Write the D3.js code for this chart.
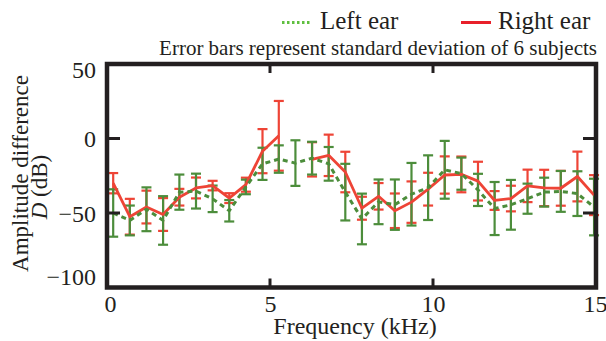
<!DOCTYPE html>
<html>
<head>
<meta charset="utf-8">
<script src="https://cdn.jsdelivr.net/npm/d3@7"></script>
<style>
  body { margin: 0; background: #fff; }
  svg text { font-family: "Liberation Serif", Tinos, "Times New Roman", Times, "DejaVu Serif", serif; fill: #231f20; }
</style>
</head>
<body>
<div id="chart"></div>
<script>
// frequency of each measured point (kHz)
var freqs = [0.19, 0.70, 1.21, 1.72, 2.22, 2.73, 3.24, 3.75, 4.26, 4.77,
  5.27, 5.78, 6.29, 6.80, 7.31, 7.82, 8.33, 8.83, 9.34, 9.85,
  10.36, 10.87, 11.38, 11.89, 12.39, 12.90, 13.41, 13.92, 14.43, 14.94];

// right ear mean and sd (dB), one point missing
var rightMean = [-30, -52.5, -46, -51, -39.4, -33.2, -31.6, -40, -31, -8.5,
  1.8, null, -14, -11.3, -22.5, -46.8, -38.8, -48.5, -42.7, -34,
  -24.5, -24.1, -28.6, -41.6, -40.3, -31.8, -33.2, -33.4, -25.5, -38];
var rightSd = [6.8, 12, 11, 11, 5.6, 7, 3.2, 3.3, 4.7, 14.8,
  23.4, null, 11.5, 13.9, 13.6, 7.7, 8.9, 11.6, 13.9, 11,
  12.5, 12, 13, 6.3, 8.6, 10.9, 12.2, 11.7, 16.7, 13.4];

// left ear mean and sd (dB)
var leftMean = [-50, -55, -47.5, -55, -36, -35.3, -40.5, -48.5, -32.5, -17,
  -13.8, -16.5, -13.2, -17, -36, -54, -42.5, -44.4, -37.4, -33,
  -21, -23.6, -34.5, -47, -44.5, -40.4, -36, -35.5, -37, -46];
var leftSd = [15.9, 10, 14.7, 16.3, 11.8, 11.7, 8.9, 7.2, 4.9, 10.8,
  9.2, 15.3, 11, 11.3, 19, 17, 15, 16.9, 21, 21.7,
  19.4, 10.8, 10.8, 17.8, 16.7, 10.1, 9.7, 13.7, 15, 19];

var xTicks = [0, 5, 10, 15];
var yTicks = [50, 0, -50, -100];

var svgWidth = 606;
var svgHeight = 341;

var red = '#ee4436';
var green = '#4c8d3b';
var ink = '#231f20';
var serif = '"Liberation Serif", Tinos, "Times New Roman", Times, "DejaVu Serif", serif';

// plot frame
var frame = { left: 107, right: 596, top: 64, bottom: 287.5 };

var svg = d3.select('#chart').append('svg')
  .attr('width', svgWidth)
  .attr('height', svgHeight)
  .attr('font-family', serif);

svg.append('rect')
  .attr('width', svgWidth)
  .attr('height', svgHeight)
  .attr('fill', '#fff');

var xScale = d3.scaleLinear()
  .domain([0, 15])
  .range([frame.left, frame.right]);

var yScale = d3.scaleLinear()
  .domain([-100, 50])
  .range([frame.bottom, frame.top]);

// build point rows from the arrays
var rightData = freqs.map((f, i) => ({ f: f, m: rightMean[i], sd: rightSd[i] }));
var leftData = freqs.map((f, i) => ({ f: f, m: leftMean[i], sd: leftSd[i] }));

function errorBars(data, color, cls) {
  var g = svg.append('g').attr('class', cls)
    .attr('stroke', color)
    .attr('stroke-width', 2.2)
    .attr('fill', 'none');
  var pts = data.filter(d => d.m != null);
  g.selectAll('line.stem')
    .data(pts)
    .enter()
    .append('line')
    .attr('class', 'stem')
    .attr('x1', d => xScale(d.f))
    .attr('x2', d => xScale(d.f))
    .attr('y1', d => yScale(d.m - d.sd))
    .attr('y2', d => yScale(d.m + d.sd));
  g.selectAll('line.capTop')
    .data(pts)
    .enter()
    .append('line')
    .attr('class', 'capTop')
    .attr('x1', d => xScale(d.f) - 5)
    .attr('x2', d => xScale(d.f) + 5)
    .attr('y1', d => yScale(d.m + d.sd))
    .attr('y2', d => yScale(d.m + d.sd));
  g.selectAll('line.capBot')
    .data(pts)
    .enter()
    .append('line')
    .attr('class', 'capBot')
    .attr('x1', d => xScale(d.f) - 5)
    .attr('x2', d => xScale(d.f) + 5)
    .attr('y1', d => yScale(d.m - d.sd))
    .attr('y2', d => yScale(d.m - d.sd));
}

errorBars(rightData, red, 'rightBars');
errorBars(leftData, green, 'leftBars');

var line = d3.line()
  .defined(d => d.m != null)
  .x(d => xScale(d.f))
  .y(d => yScale(d.m));

svg.append('path')
  .datum(rightData)
  .attr('fill', 'none')
  .attr('stroke', red)
  .attr('stroke-width', 2.8)
  .attr('stroke-linejoin', 'round')
  .attr('d', line);

svg.append('path')
  .datum(leftData)
  .attr('fill', 'none')
  .attr('stroke', green)
  .attr('stroke-width', 3)
  .attr('stroke-dasharray', '5,4')
  .attr('d', line);

// frame box
svg.append('rect')
  .attr('x', frame.left)
  .attr('y', frame.top)
  .attr('width', frame.right - frame.left)
  .attr('height', frame.bottom - frame.top)
  .attr('fill', 'none')
  .attr('stroke', ink)
  .attr('stroke-width', 4.5);

// inner ticks
var inner = svg.append('g').attr('stroke', ink).attr('stroke-width', 3);
[0, -50].forEach(function(v) {
  inner.append('line').attr('x1', frame.left).attr('x2', frame.left + 13)
    .attr('y1', yScale(v)).attr('y2', yScale(v));
  inner.append('line').attr('x1', frame.right - 13).attr('x2', frame.right)
    .attr('y1', yScale(v)).attr('y2', yScale(v));
});
[5, 10].forEach(function(v) {
  inner.append('line').attr('x1', xScale(v)).attr('x2', xScale(v))
    .attr('y1', frame.top).attr('y2', frame.top + 9);
  inner.append('line').attr('x1', xScale(v)).attr('x2', xScale(v))
    .attr('y1', frame.bottom - 9).attr('y2', frame.bottom);
});

// x tick labels
var xAxis = svg.append('g')
  .attr('transform', `translate(0, ${frame.bottom})`)
  .call(d3.axisBottom(xScale).tickValues(xTicks).tickSize(0));
xAxis.attr('font-family', serif).attr('font-size', 24);
xAxis.select('.domain').remove();
xAxis.selectAll('text')
  .attr('y', 24.5)
  .attr('dy', 0)
  .attr('dx', d => d == 0 ? 3 : d == 15 ? -1 : 0)
  .attr('fill', ink);

// y tick labels, end labels nudged inside the frame
var yAxis = svg.append('g')
  .attr('transform', `translate(${frame.left}, 0)`)
  .call(d3.axisLeft(yScale).tickValues(yTicks).tickSize(0).tickPadding(11));
yAxis.attr('font-family', serif).attr('font-size', 24);
yAxis.select('.domain').remove();
yAxis.selectAll('text')
  .attr('dy', d => d == 50 ? '0.55em' : d == -100 ? '-0.12em' : '0.34em')
  .attr('fill', ink);

// axis titles
svg.append('text')
  .attr('x', 355)
  .attr('y', 334)
  .attr('text-anchor', 'middle')
  .attr('font-size', 24)
  .text('Frequency (kHz)');

svg.append('text')
  .attr('transform', 'translate(28, 173.5) rotate(-90)')
  .attr('text-anchor', 'middle')
  .attr('font-size', 23)
  .text('Amplitude difference');

var dLabel = svg.append('text')
  .attr('transform', 'translate(47, 187) rotate(-90)')
  .attr('text-anchor', 'middle')
  .attr('font-size', 23);
dLabel.append('tspan').attr('font-style', 'italic').text('D');
dLabel.append('tspan').text(' (dB)');

// legend
svg.append('line')
  .attr('x1', 282).attr('x2', 311)
  .attr('y1', 22.5).attr('y2', 22.5)
  .attr('stroke', '#5fbf3f')
  .attr('stroke-width', 3)
  .attr('stroke-dasharray', '2.5,2.5');
svg.append('text')
  .attr('x', 320).attr('y', 28.5)
  .attr('font-size', 25)
  .text('Left ear');

svg.append('line')
  .attr('x1', 461).attr('x2', 491)
  .attr('y1', 22.5).attr('y2', 22.5)
  .attr('stroke', '#e8202a')
  .attr('stroke-width', 3);
svg.append('text')
  .attr('x', 498).attr('y', 28.5)
  .attr('font-size', 25)
  .text('Right ear');

svg.append('text')
  .attr('x', 597).attr('y', 55)
  .attr('text-anchor', 'end')
  .attr('font-size', 21)
  .text('Error bars represent standard deviation of 6 subjects');
</script>
</body>
</html>
